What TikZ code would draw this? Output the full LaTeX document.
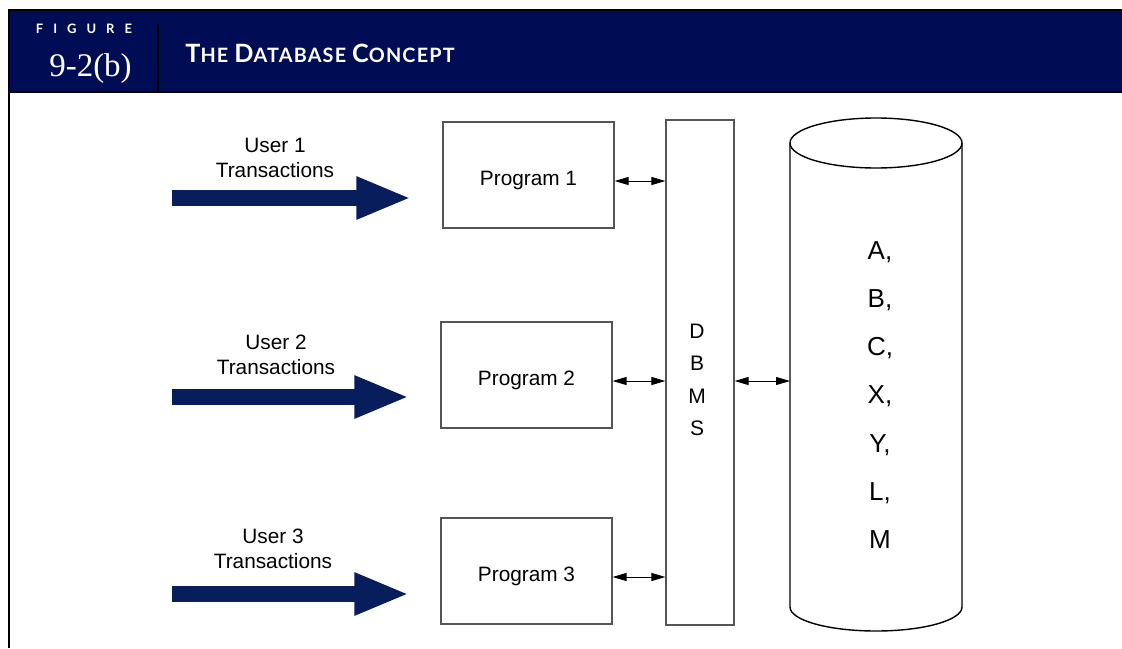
\documentclass[tikz,border=0pt]{standalone}
\usepackage{fontspec}
\setmainfont{Liberation Sans}
\newfontfamily\numfont{Liberation Serif}
\newfontfamily\headfont{Lato}
\newfontfamily\titlefont[LetterSpace=6]{Lato}
\usepackage{xcolor}
\usetikzlibrary{arrows.meta}

\definecolor{headnavy}{RGB}{0,13,84}
\definecolor{arrownavy}{RGB}{8,30,92}
\definecolor{boxgray}{RGB}{85,85,85}

\newcommand{\tbig}[1]{{\fontsize{12.6}{13}\selectfont #1}}
\newcommand{\tsmall}[1]{{\fontsize{9.9}{10}\selectfont #1}}

\begin{document}
\begin{tikzpicture}[x=0.5pt, y=0.5pt,
    box/.style={rectangle, draw=boxgray, line width=0.6pt, minimum width=85.5pt, minimum height=53pt,
        text height=12.5pt, text depth=2pt, font=\fontsize{10.4}{12}\selectfont},
    lbl/.style={align=center, font=\fontsize{10.4}{12.5}\selectfont},
    link/.style={{Triangle[length=7pt,width=4pt]}-{Triangle[length=7pt,width=4pt]}, line width=0.5pt},
    userarrow/.style={arrownavy, line width=8pt, -{Triangle[length=27.5pt,width=19.5pt]}, shorten >=15.5pt}]

    \useasboundingbox (0,0) rectangle (1122,-648);

    % Header bar
    \fill[headnavy] (9,-10) rectangle (1122,-92);
    \draw[line width=1.3pt] (1122,-10) -- (9,-10) -- (9,-648);
    \draw[line width=1pt] (9,-92) -- (1122,-92);
    \draw[line width=1.2pt] (158,-24) -- (158,-92);
    \node[text=white, anchor=base, font={\headfont\bfseries\fontsize{6.5}{7}\selectfont}] (figlbl) at (84,-33.5)
        {F\kern5pt I\kern5pt G\kern5pt U\kern5pt R\kern5pt E};
    \node[text=white, anchor=base, font={\numfont\fontsize{16.5}{18}\selectfont}] (fignum) at (90.5,-76) {9-2(b)};
    \node[text=white, anchor=base west, inner sep=0pt, font={\titlefont\bfseries}] (title) at (185,-62.5)
        {\tbig{T}\tsmall{HE} \tbig{D}\tsmall{ATABASE} \tbig{C}\tsmall{ONCEPT}};

    % Programs
    \node[box] (prog1) at (528.5,-175) {Program 1};
    \node[box] (prog2) at (526.5,-375) {Program 2};
    \node[box] (prog3) at (526.5,-571) {Program 3};

    % DBMS
    \node[rectangle, draw=boxgray, line width=0.6pt, minimum width=34pt, minimum height=252.5pt] (dbms) at (700,-372.5) {};
    \node[align=center, font=\fontsize{10.5}{16.25}\selectfont] (dbmstxt) at (697,-380) {D\\B\\M\\S};

    % Database cylinder
    \node[inner sep=0pt, outer sep=0pt, minimum width=86pt, minimum height=232pt] (dbbody) at (876,-375) {};
    \draw[line width=0.7pt] (dbbody.north west) -- (dbbody.south west)
        arc[start angle=180, end angle=360, x radius=86, y radius=24] -- (dbbody.north east);
    \draw[line width=0.7pt] (dbbody.north) ellipse [x radius=86, y radius=25];
    \node[align=center, font=\fontsize{13}{24.1}\selectfont] (dbdata) at (880,-395) {A,\\B,\\C,\\X,\\Y,\\L,\\M};
    \coordinate (dbin) at ([yshift=-3pt]dbbody.west);

    % Users
    \node[lbl] (user1) at (275,-158) {User 1\\Transactions};
    \node[lbl] (user2) at (276,-355) {User 2\\Transactions};
    \node[lbl] (user3) at (273,-549) {User 3\\Transactions};
    \coordinate (u1) at (172,-198);
    \coordinate (u2) at (172,-397);
    \coordinate (u3) at (172,-594);

    \draw[userarrow] (u1) -- (u1 -| prog1.west);
    \draw[userarrow] (u2) -- (u2 -| prog2.west);
    \draw[userarrow] (u3) -- (u3 -| prog3.west);
    \draw[link] ([yshift=-3pt]prog1.east) -- ([yshift=-3pt]dbms.west |- prog1.east);
    \draw[link] ([yshift=-3pt]prog2.east) -- ([yshift=-3pt]dbms.west |- prog2.east);
    \draw[link] ([yshift=-3pt]prog3.east) -- ([yshift=-3pt]dbms.west |- prog3.east);
    \draw[link] (dbin -| dbms.east) -- (dbin);
\end{tikzpicture}
\end{document}
